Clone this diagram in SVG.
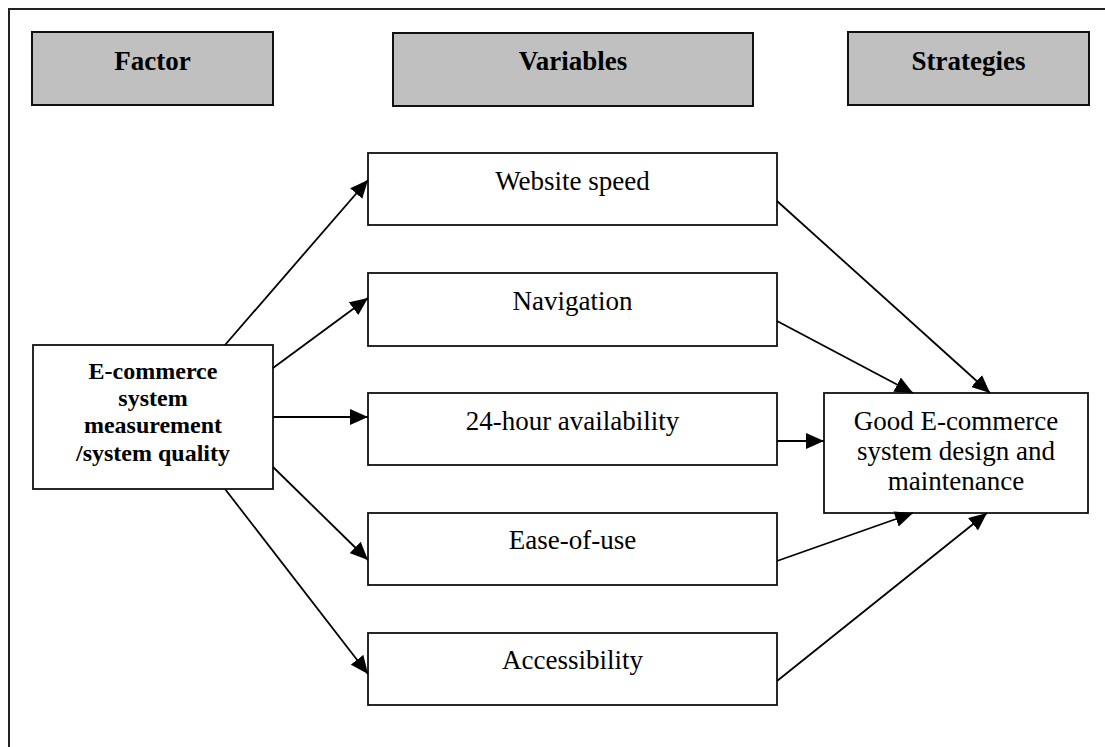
<svg xmlns="http://www.w3.org/2000/svg" width="1105" height="747" viewBox="0 0 1105 747">
  <style>
    .frame { fill: none; stroke: #222; stroke-width: 2; }
    .head { fill: #c0c0c0; stroke: #111; stroke-width: 2; }
    .box { fill: #fff; stroke: #111; stroke-width: 1.8; }
    .hd { font-family: "Liberation Serif", "Times New Roman", serif; font-weight: bold; font-size: 27px; text-anchor: middle; fill: #000; }
    .bt { font-family: "Liberation Serif", "Times New Roman", serif; font-weight: bold; font-size: 24px; text-anchor: middle; fill: #000; }
    .tx { font-family: "Liberation Serif", "Times New Roman", serif; font-size: 27px; text-anchor: middle; fill: #000; }
    .arr { stroke: #000; stroke-width: 1.8; fill: none; marker-end: url(#ah); }
  </style>
  <defs>
    <marker id="ah" markerUnits="userSpaceOnUse" markerWidth="19" markerHeight="16" refX="18" refY="8" orient="auto">
      <path d="M0,0 L18,8 L0,16 z" fill="#000"/>
    </marker>
  </defs>

  <rect width="1105" height="747" fill="#fff"/>
  <!-- outer frame (runs off the right and bottom edges) -->
  <rect class="frame" x="9" y="9" width="1120" height="760"/>

  <!-- column headers -->
  <g id="head-factor">
    <rect class="head" x="32" y="32" width="241" height="73"/>
    <text class="hd" x="152.5" y="70">Factor</text>
  </g>
  <g id="head-variables">
    <rect class="head" x="393" y="33" width="360" height="73"/>
    <text class="hd" x="573" y="70">Variables</text>
  </g>
  <g id="head-strategies">
    <rect class="head" x="848" y="32" width="241" height="73"/>
    <text class="hd" x="968.5" y="70">Strategies</text>
  </g>

  <!-- factor node -->
  <g id="factor">
    <rect class="box" x="33" y="345" width="240" height="144"/>
    <text class="bt" x="153" y="379">E-commerce</text>
    <text class="bt" x="153" y="406">system</text>
    <text class="bt" x="153" y="433">measurement</text>
    <text class="bt" x="153" y="461">/system quality</text>
  </g>

  <!-- variable nodes -->
  <g id="website-speed">
    <rect class="box" x="368" y="153" width="409" height="72"/>
    <text class="tx" x="572.5" y="190">Website speed</text>
  </g>
  <g id="navigation">
    <rect class="box" x="368" y="273" width="409" height="73"/>
    <text class="tx" x="572.5" y="310">Navigation</text>
  </g>
  <g id="availability">
    <rect class="box" x="368" y="393" width="409" height="72"/>
    <text class="tx" x="572.5" y="430">24-hour availability</text>
  </g>
  <g id="ease-of-use">
    <rect class="box" x="368" y="513" width="409" height="72"/>
    <text class="tx" x="572.5" y="549">Ease-of-use</text>
  </g>
  <g id="accessibility">
    <rect class="box" x="368" y="633" width="409" height="72"/>
    <text class="tx" x="572.5" y="669">Accessibility</text>
  </g>

  <!-- strategy node -->
  <g id="strategy">
    <rect class="box" x="824" y="393" width="264" height="120"/>
    <text class="tx" x="956" y="430">Good E-commerce</text>
    <text class="tx" x="956" y="460">system design and</text>
    <text class="tx" x="956" y="490">maintenance</text>
  </g>

  <!-- connectors -->
  <g id="connectors">
    <line class="arr" x1="225" y1="345" x2="368" y2="180"/>
    <line class="arr" x1="273" y1="368" x2="368" y2="298"/>
    <line class="arr" x1="273" y1="417" x2="368" y2="417"/>
    <line class="arr" x1="273" y1="467" x2="368" y2="560"/>
    <line class="arr" x1="225" y1="489" x2="368" y2="674"/>

    <line class="arr" x1="777" y1="201" x2="990" y2="393"/>
    <line class="arr" x1="777" y1="321" x2="913" y2="393"/>
    <line class="arr" x1="777" y1="441" x2="824" y2="441"/>
    <line class="arr" x1="777" y1="561" x2="913" y2="513"/>
    <line class="arr" x1="777" y1="681" x2="987" y2="513"/>
  </g>
</svg>
